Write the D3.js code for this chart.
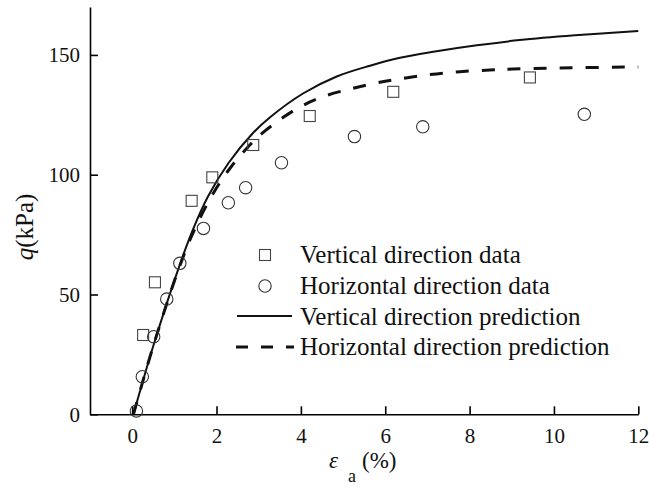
<!DOCTYPE html>
<html>
<head>
<meta charset="utf-8">
<script src="https://cdn.jsdelivr.net/npm/d3@7"></script>
<style>
  html, body { margin: 0; padding: 0; background: #fff; }
  svg { display: block; font-family: "Liberation Serif", "Times New Roman", serif; }
</style>
</head>
<body>
<svg id="chart" width="649" height="486"></svg>
<script>
// ---- data ----
const xTicks = [0, 2, 4, 6, 8, 10, 12];
const yTicks = [0, 50, 100, 150];

const verticalDataX = [0.26, 0.54, 1.41, 1.90, 2.87, 4.21, 6.19, 9.43];
const verticalDataY = [33.1, 55.1, 89.1, 98.9, 112.4, 124.5, 134.6, 140.6];

const horizontalDataX = [0.10, 0.24, 0.51, 0.82, 1.13, 1.69, 2.28, 2.69, 3.54, 5.27, 6.89, 10.72];
const horizontalDataY = [1.4, 15.7, 32.4, 48.1, 63.0, 77.6, 88.3, 94.6, 105.0, 115.9, 120.0, 125.2];

const verticalPredX = [0.03, 0.5, 1.13, 1.45, 1.8, 2.28, 2.87, 3.27, 4.06, 4.85, 5.64, 6.35, 7.14, 8.17, 9.19, 10.5, 12];
const verticalPredY = [0, 28.5, 62.5, 77.5, 91, 104.8, 117.5, 124, 134, 141, 145.5, 148.8, 151.3, 154, 156.2, 158.2, 160];

const horizontalPredX = [0.03, 0.5, 1.13, 1.49, 1.92, 2.32, 2.79, 3.15, 3.9, 4.53, 5.24, 5.87, 6.35, 7.06, 7.77, 8.48, 9.03, 10, 12];
const horizontalPredY = [0, 28.5, 62, 77.6, 92.2, 102.7, 112.4, 118.3, 127.5, 132.6, 136.1, 138.6, 140, 141.8, 143, 143.7, 144.1, 144.5, 145];

const legendLabels = ["Vertical direction data", "Horizontal direction data",
                      "Vertical direction prediction", "Horizontal direction prediction"];

// ---- chart ----
const svg = d3.select("#chart");
const x = d3.scaleLinear().domain([-1, 12]).range([90, 638.3]);
const y = d3.scaleLinear().domain([0, 170]).range([414.3, 7]);

const zip = (a, b) => a.map((v, i) => [v, b[i]]);

// axes
const xAxis = svg.append("g").attr("transform", `translate(0,${y(0)})`)
  .call(d3.axisBottom(x).tickValues(xTicks).tickSizeInner(-8).tickSizeOuter(0).tickPadding(14));
const yAxis = svg.append("g").attr("transform", `translate(${x(-1)},0)`)
  .call(d3.axisLeft(y).tickValues(yTicks).tickSizeInner(-8).tickSizeOuter(0).tickPadding(10));

[xAxis, yAxis].forEach(g => {
  g.select(".domain").attr("stroke", "#000").attr("stroke-width", 1.6);
  g.selectAll(".tick line").attr("stroke", "#000").attr("stroke-width", 1.6);
  g.selectAll(".tick text").attr("fill", "#111")
    .style("font-family", '"Liberation Serif", "Times New Roman", serif')
    .style("font-size", "21px");
});
xAxis.selectAll(".tick text").attr("dy", "0.71em");

// prediction lines
const line = d3.line().x(d => x(d[0])).y(d => y(d[1])).curve(d3.curveCatmullRom.alpha(0.5));
svg.append("path").datum(zip(verticalPredX, verticalPredY))
  .attr("fill", "none").attr("stroke", "#111").attr("stroke-width", 2).attr("d", line);
svg.append("path").datum(zip(horizontalPredX, horizontalPredY))
  .attr("fill", "none").attr("stroke", "#111").attr("stroke-width", 3)
  .attr("stroke-dasharray", "13,13").attr("d", line);

// data markers
const sq = 11;
svg.append("g").selectAll("rect").data(zip(verticalDataX, verticalDataY)).join("rect")
  .attr("x", d => x(d[0]) - sq / 2).attr("y", d => y(d[1]) - sq / 2)
  .attr("width", sq).attr("height", sq)
  .attr("fill", "none").attr("stroke", "#444").attr("stroke-width", 1.1);
svg.append("g").selectAll("circle").data(zip(horizontalDataX, horizontalDataY)).join("circle")
  .attr("cx", d => x(d[0])).attr("cy", d => y(d[1])).attr("r", 6.2)
  .attr("fill", "none").attr("stroke", "#333").attr("stroke-width", 1.1);

// legend
const lg = svg.append("g");
const rowBase = [263, 294, 324.5, 355];
const textX = 300;
lg.selectAll("text").data(legendLabels).join("text")
  .attr("x", textX).attr("y", (d, i) => rowBase[i])
  .attr("fill", "#111").style("font-size", "25px").text(d => d);
lg.append("rect").attr("x", 265 - sq / 2).attr("y", 255 - sq / 2).attr("width", sq).attr("height", sq)
  .attr("fill", "none").attr("stroke", "#444").attr("stroke-width", 1.1);
lg.append("circle").attr("cx", 265).attr("cy", 286).attr("r", 6.2)
  .attr("fill", "none").attr("stroke", "#333").attr("stroke-width", 1.1);
lg.append("line").attr("x1", 237).attr("x2", 292).attr("y1", 316).attr("y2", 316)
  .attr("stroke", "#111").attr("stroke-width", 2);
lg.append("line").attr("x1", 236).attr("x2", 294).attr("y1", 347).attr("y2", 347)
  .attr("stroke", "#111").attr("stroke-width", 3).attr("stroke-dasharray", "12,13");

// axis titles
const yl = svg.append("text").attr("transform", "translate(33,227) rotate(-90)")
  .attr("text-anchor", "middle").attr("fill", "#111").style("font-size", "25px");
yl.append("tspan").style("font-style", "italic").text("q");
yl.append("tspan").text("(kPa)");

svg.append("text").attr("x", 329).attr("y", 468).style("font-style", "italic")
  .style("font-size", "23px").attr("fill", "#111").text("ε");
svg.append("text").attr("x", 348).attr("y", 482)
  .style("font-size", "18px").attr("fill", "#111").text("a");
svg.append("text").attr("x", 362).attr("y", 468)
  .style("font-size", "23px").attr("fill", "#111").text("(%)");
</script>
</body>
</html>
